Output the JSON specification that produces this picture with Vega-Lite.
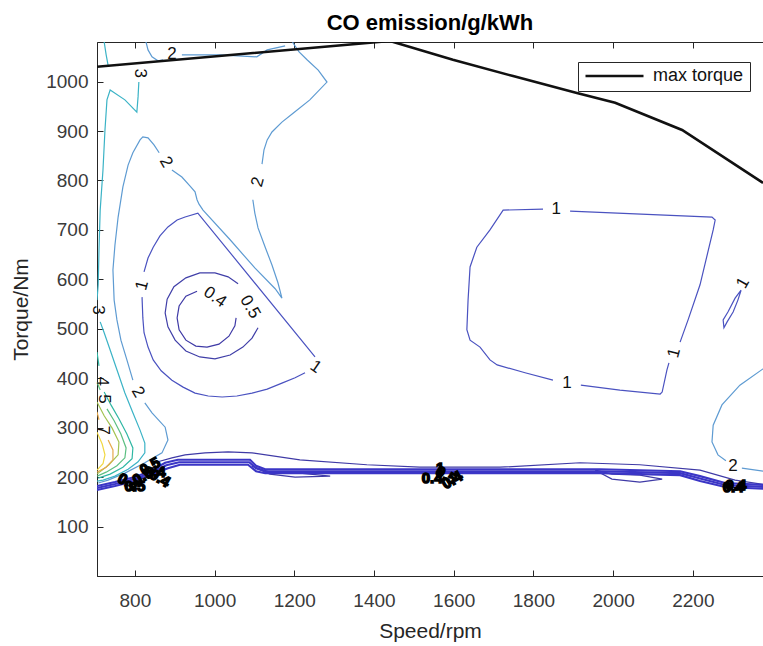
{
  "$schema": "https://vega.github.io/schema/vega-lite/v6.json",
  "width": 666,
  "height": 534,
  "autosize": {"type": "none"},
  "padding": {"left": 97, "top": 42, "right": 0, "bottom": 70},
  "background": "white",
  "title": {"text": "CO emission/g/kWh", "font": "Liberation Sans", "fontSize": 22, "fontWeight": "bold", "color": "#000000", "anchor": "middle", "offset": 7},
  "config": {
    "view": {"stroke": "#262626", "strokeWidth": 1},
    "axis": {"grid": false, "domainColor": "#262626", "tickColor": "#262626", "labelColor": "#3a3a3a", "labelFont": "Liberation Sans", "titleFont": "Liberation Sans", "labelFontSize": 19, "titleFontSize": 21, "titleFontWeight": "normal", "titleColor": "#262626", "tickSize": -6, "format": "d"}
  },
  "datasets": {
    "contours": [
      {"c":"c04","lv":"0.4","s":956,"t":576},{"c":"c04","lv":"0.4","s":928,"t":566},{"c":"c04","lv":"0.4","s":911,"t":546},{"c":"c04","lv":"0.4","s":906,"t":522},{"c":"c04","lv":"0.4","s":911,"t":498},{"c":"c04","lv":"0.4","s":928,"t":477},{"c":"c04","lv":"0.4","s":953,"t":465},{"c":"c04","lv":"0.4","s":981,"t":463},{"c":"c04","lv":"0.4","s":1011,"t":469},{"c":"c04","lv":"0.4","s":1036,"t":485},{"c":"c04","lv":"0.4","s":1051,"t":506},{"c":"c04","lv":"0.4","s":1054,"t":522},
      {"c":"c05","lv":"0.5","s":1059,"t":591},{"c":"c05","lv":"0.5","s":1034,"t":605},{"c":"c05","lv":"0.5","s":1001,"t":613},{"c":"c05","lv":"0.5","s":963,"t":613},{"c":"c05","lv":"0.5","s":928,"t":603},{"c":"c05","lv":"0.5","s":898,"t":585},{"c":"c05","lv":"0.5","s":881,"t":560},{"c":"c05","lv":"0.5","s":876,"t":532},{"c":"c05","lv":"0.5","s":883,"t":504},{"c":"c05","lv":"0.5","s":901,"t":477},{"c":"c05","lv":"0.5","s":928,"t":455},{"c":"c05","lv":"0.5","s":963,"t":443},{"c":"c05","lv":"0.5","s":1001,"t":439},{"c":"c05","lv":"0.5","s":1039,"t":447},{"c":"c05","lv":"0.5","s":1071,"t":463},{"c":"c05","lv":"0.5","s":1094,"t":481},{"c":"c05","lv":"0.5","s":1109,"t":502},
      {"c":"c1a","lv":"1","s":823,"t":615},{"c":"c1a","lv":"1","s":833,"t":643},{"c":"c1a","lv":"1","s":846,"t":665},{"c":"c1a","lv":"1","s":863,"t":688},{"c":"c1a","lv":"1","s":883,"t":706},{"c":"c1a","lv":"1","s":906,"t":720},{"c":"c1a","lv":"1","s":926,"t":726},{"c":"c1a","lv":"1","s":958,"t":734},{"c":"c1a","lv":"1","s":1252,"t":443},
      {"c":"c1b","lv":"1","s":818,"t":564},{"c":"c1b","lv":"1","s":820,"t":522},{"c":"c1b","lv":"1","s":823,"t":492},{"c":"c1b","lv":"1","s":833,"t":463},{"c":"c1b","lv":"1","s":846,"t":437},{"c":"c1b","lv":"1","s":866,"t":415},{"c":"c1b","lv":"1","s":893,"t":396},{"c":"c1b","lv":"1","s":921,"t":382},{"c":"c1b","lv":"1","s":951,"t":370},{"c":"c1b","lv":"1","s":984,"t":364},{"c":"c1b","lv":"1","s":1019,"t":362},{"c":"c1b","lv":"1","s":1056,"t":364},{"c":"c1b","lv":"1","s":1094,"t":370},{"c":"c1b","lv":"1","s":1132,"t":378},{"c":"c1b","lv":"1","s":1169,"t":390},{"c":"c1b","lv":"1","s":1202,"t":401},{"c":"c1b","lv":"1","s":1227,"t":411},
      {"c":"c2a","lv":"2","s":708,"t":188},{"c":"c2a","lv":"2","s":733,"t":194},{"c":"c2a","lv":"2","s":775,"t":208},{"c":"c2a","lv":"2","s":825,"t":229},{"c":"c2a","lv":"2","s":868,"t":249},{"c":"c2a","lv":"2","s":883,"t":275},{"c":"c2a","lv":"2","s":876,"t":301},{"c":"c2a","lv":"2","s":843,"t":330},{"c":"c2a","lv":"2","s":825,"t":350},
      {"c":"c2b","lv":"2","s":795,"t":396},{"c":"c2b","lv":"2","s":780,"t":437},{"c":"c2b","lv":"2","s":765,"t":477},{"c":"c2b","lv":"2","s":755,"t":518},{"c":"c2b","lv":"2","s":748,"t":558},{"c":"c2b","lv":"2","s":745,"t":619},{"c":"c2b","lv":"2","s":750,"t":669},{"c":"c2b","lv":"2","s":758,"t":726},{"c":"c2b","lv":"2","s":770,"t":787},{"c":"c2b","lv":"2","s":783,"t":831},{"c":"c2b","lv":"2","s":795,"t":856},{"c":"c2b","lv":"2","s":813,"t":882},{"c":"c2b","lv":"2","s":820,"t":888},{"c":"c2b","lv":"2","s":833,"t":886},{"c":"c2b","lv":"2","s":848,"t":872},{"c":"c2b","lv":"2","s":861,"t":856},
      {"c":"c2c","lv":"2","s":893,"t":821},{"c":"c2c","lv":"2","s":918,"t":807},{"c":"c2c","lv":"2","s":938,"t":789},{"c":"c2c","lv":"2","s":951,"t":777},{"c":"c2c","lv":"2","s":956,"t":761},{"c":"c2c","lv":"2","s":961,"t":752},{"c":"c2c","lv":"2","s":971,"t":740},{"c":"c2c","lv":"2","s":1039,"t":680},{"c":"c2c","lv":"2","s":1101,"t":623},{"c":"c2c","lv":"2","s":1152,"t":581},{"c":"c2c","lv":"2","s":1169,"t":562},{"c":"c2c","lv":"2","s":1159,"t":593},{"c":"c2c","lv":"2","s":1144,"t":629},{"c":"c2c","lv":"2","s":1127,"t":665},{"c":"c2c","lv":"2","s":1109,"t":704},{"c":"c2c","lv":"2","s":1101,"t":734},{"c":"c2c","lv":"2","s":1096,"t":761},
      {"c":"c2d","lv":"2","s":1119,"t":833},{"c":"c2d","lv":"2","s":1124,"t":862},{"c":"c2d","lv":"2","s":1132,"t":882},{"c":"c2d","lv":"2","s":1144,"t":898},{"c":"c2d","lv":"2","s":1169,"t":918},{"c":"c2d","lv":"2","s":1197,"t":936},{"c":"c2d","lv":"2","s":1239,"t":963},{"c":"c2d","lv":"2","s":1282,"t":999},{"c":"c2d","lv":"2","s":1260,"t":1023},{"c":"c2d","lv":"2","s":1232,"t":1044},{"c":"c2d","lv":"2","s":1212,"t":1060},{"c":"c2d","lv":"2","s":1197,"t":1078},{"c":"c2d","lv":"2","s":1193,"t":1088},
      {"c":"c2e","lv":"2","s":826,"t":1088},{"c":"c2e","lv":"2","s":828,"t":1080},{"c":"c2e","lv":"2","s":833,"t":1064},{"c":"c2e","lv":"2","s":843,"t":1050},{"c":"c2e","lv":"2","s":858,"t":1042},{"c":"c2e","lv":"2","s":871,"t":1044},
      {"c":"c2f","lv":"2","s":918,"t":1054},{"c":"c2f","lv":"2","s":1014,"t":1054},{"c":"c2f","lv":"2","s":1106,"t":1050},{"c":"c2f","lv":"2","s":1132,"t":1064},{"c":"c2f","lv":"2","s":1177,"t":1072},
      {"c":"c3a","lv":"3","s":721,"t":1090},{"c":"c3a","lv":"3","s":723,"t":1080},{"c":"c3a","lv":"3","s":728,"t":1054},{"c":"c3a","lv":"3","s":733,"t":1032},
      {"c":"c3b","lv":"3","s":810,"t":999},{"c":"c3b","lv":"3","s":808,"t":969},{"c":"c3b","lv":"3","s":805,"t":938},{"c":"c3b","lv":"3","s":775,"t":963},{"c":"c3b","lv":"3","s":738,"t":983},{"c":"c3b","lv":"3","s":730,"t":963},{"c":"c3b","lv":"3","s":725,"t":902},{"c":"c3b","lv":"3","s":720,"t":821},{"c":"c3b","lv":"3","s":713,"t":740},{"c":"c3b","lv":"3","s":710,"t":659},{"c":"c3b","lv":"3","s":708,"t":589},{"c":"c3b","lv":"3","s":705,"t":558},
      {"c":"c3c","lv":"3","s":713,"t":514},{"c":"c3c","lv":"3","s":723,"t":492},{"c":"c3c","lv":"3","s":738,"t":457},{"c":"c3c","lv":"3","s":755,"t":417},{"c":"c3c","lv":"3","s":775,"t":370},{"c":"c3c","lv":"3","s":795,"t":330},{"c":"c3c","lv":"3","s":813,"t":295},{"c":"c3c","lv":"3","s":825,"t":269},{"c":"c3c","lv":"3","s":825,"t":249},{"c":"c3c","lv":"3","s":808,"t":231},{"c":"c3c","lv":"3","s":783,"t":216},{"c":"c3c","lv":"3","s":750,"t":202},{"c":"c3c","lv":"3","s":720,"t":194},{"c":"c3c","lv":"3","s":705,"t":192},
      {"c":"c4a","lv":"4","s":705,"t":453},{"c":"c4a","lv":"4","s":710,"t":425},
      {"c":"c4b","lv":"4","s":723,"t":372},{"c":"c4b","lv":"4","s":740,"t":346},{"c":"c4b","lv":"4","s":760,"t":318},{"c":"c4b","lv":"4","s":780,"t":287},{"c":"c4b","lv":"4","s":795,"t":259},{"c":"c4b","lv":"4","s":793,"t":237},{"c":"c4b","lv":"4","s":770,"t":220},{"c":"c4b","lv":"4","s":738,"t":206},{"c":"c4b","lv":"4","s":708,"t":198},
      {"c":"c5a","lv":"5","s":705,"t":392},{"c":"c5a","lv":"5","s":713,"t":376},
      {"c":"c5b","lv":"5","s":730,"t":338},{"c":"c5b","lv":"5","s":748,"t":314},{"c":"c5b","lv":"5","s":765,"t":287},{"c":"c5b","lv":"5","s":778,"t":259},{"c":"c5b","lv":"5","s":775,"t":239},{"c":"c5b","lv":"5","s":755,"t":223},{"c":"c5b","lv":"5","s":728,"t":210},{"c":"c5b","lv":"5","s":705,"t":202},
      {"c":"c6","lv":"6","s":705,"t":352},{"c":"c6","lv":"6","s":723,"t":324},{"c":"c6","lv":"6","s":743,"t":299},{"c":"c6","lv":"6","s":760,"t":271},{"c":"c6","lv":"6","s":758,"t":245},{"c":"c6","lv":"6","s":735,"t":225},{"c":"c6","lv":"6","s":705,"t":206},
      {"c":"c7a","lv":"7","s":705,"t":332},{"c":"c7a","lv":"7","s":710,"t":316},
      {"c":"c7b","lv":"7","s":733,"t":275},{"c":"c7b","lv":"7","s":745,"t":255},{"c":"c7b","lv":"7","s":745,"t":235},{"c":"c7b","lv":"7","s":728,"t":220},{"c":"c7b","lv":"7","s":705,"t":210},
      {"c":"c8","lv":"8","s":705,"t":291},{"c":"c8","lv":"8","s":718,"t":267},{"c":"c8","lv":"8","s":725,"t":245},{"c":"c8","lv":"8","s":720,"t":227},{"c":"c8","lv":"8","s":705,"t":214},
      {"c":"r1a","lv":"1","s":1824,"t":742},{"c":"r1a","lv":"1","s":1724,"t":740},{"c":"r1a","lv":"1","s":1691,"t":700},{"c":"r1a","lv":"1","s":1658,"t":665},{"c":"r1a","lv":"1","s":1641,"t":625},{"c":"r1a","lv":"1","s":1636,"t":558},{"c":"r1a","lv":"1","s":1633,"t":498},{"c":"r1a","lv":"1","s":1641,"t":477},{"c":"r1a","lv":"1","s":1666,"t":463},{"c":"r1a","lv":"1","s":1691,"t":437},{"c":"r1a","lv":"1","s":1709,"t":427},{"c":"r1a","lv":"1","s":1779,"t":411},{"c":"r1a","lv":"1","s":1849,"t":396},
      {"c":"r1b","lv":"1","s":1919,"t":386},{"c":"r1b","lv":"1","s":2017,"t":376},{"c":"r1b","lv":"1","s":2118,"t":368},{"c":"r1b","lv":"1","s":2123,"t":372},{"c":"r1b","lv":"1","s":2135,"t":417},{"c":"r1b","lv":"1","s":2140,"t":431},
      {"c":"r1c","lv":"1","s":2168,"t":473},{"c":"r1c","lv":"1","s":2188,"t":518},{"c":"r1c","lv":"1","s":2218,"t":589},{"c":"r1c","lv":"1","s":2251,"t":700},{"c":"r1c","lv":"1","s":2256,"t":720},{"c":"r1c","lv":"1","s":2248,"t":726},{"c":"r1c","lv":"1","s":1892,"t":738},
      {"c":"r1s","lv":"1","s":2321,"t":578},{"c":"r1s","lv":"1","s":2313,"t":558},{"c":"r1s","lv":"1","s":2301,"t":534},{"c":"r1s","lv":"1","s":2286,"t":514},{"c":"r1s","lv":"1","s":2278,"t":502},{"c":"r1s","lv":"1","s":2276,"t":518},{"c":"r1s","lv":"1","s":2288,"t":534},{"c":"r1s","lv":"1","s":2306,"t":562},{"c":"r1s","lv":"1","s":2321,"t":578},
      {"c":"r2a","lv":"2","s":2385,"t":424},{"c":"r2a","lv":"2","s":2318,"t":386},{"c":"r2a","lv":"2","s":2273,"t":346},{"c":"r2a","lv":"2","s":2251,"t":305},{"c":"r2a","lv":"2","s":2248,"t":271},{"c":"r2a","lv":"2","s":2263,"t":245},{"c":"r2a","lv":"2","s":2283,"t":233},
      {"c":"r2b","lv":"2","s":2323,"t":218},{"c":"r2b","lv":"2","s":2385,"t":211},
      {"c":"bt","lv":"0.4","s":858,"t":231},{"c":"bt","lv":"0.4","s":893,"t":239},{"c":"bt","lv":"0.4","s":926,"t":245},{"c":"bt","lv":"0.4","s":976,"t":249},{"c":"bt","lv":"0.4","s":1034,"t":251},{"c":"bt","lv":"0.4","s":1094,"t":249},{"c":"bt","lv":"0.4","s":1214,"t":235},{"c":"bt","lv":"0.4","s":1382,"t":225},{"c":"bt","lv":"0.4","s":1515,"t":220},{"c":"bt","lv":"0.4","s":1716,"t":220},{"c":"bt","lv":"0.4","s":1917,"t":229},{"c":"bt","lv":"0.4","s":2067,"t":225},{"c":"bt","lv":"0.4","s":2218,"t":214},{"c":"bt","lv":"0.4","s":2306,"t":194},{"c":"bt","lv":"0.4","s":2385,"t":184},
      {"c":"lp1","lv":"0.4","s":1094,"t":222},{"c":"lp1","lv":"0.4","s":1139,"t":206},{"c":"lp1","lv":"0.4","s":1202,"t":200},{"c":"lp1","lv":"0.4","s":1290,"t":202},{"c":"lp1","lv":"0.4","s":1214,"t":208},{"c":"lp1","lv":"0.4","s":1139,"t":210},{"c":"lp1","lv":"0.4","s":1094,"t":222},
      {"c":"lp2","lv":"0.4","s":1955,"t":214},{"c":"lp2","lv":"0.4","s":1997,"t":196},{"c":"lp2","lv":"0.4","s":2067,"t":190},{"c":"lp2","lv":"0.4","s":2123,"t":196},{"c":"lp2","lv":"0.4","s":2067,"t":204},{"c":"lp2","lv":"0.4","s":1997,"t":206},{"c":"lp2","lv":"0.4","s":1955,"t":214},
      {"c":"bb1","lv":"0.3","s":705,"t":182},{"c":"bb1","lv":"0.3","s":750,"t":190},{"c":"bb1","lv":"0.3","s":800,"t":200},{"c":"bb1","lv":"0.3","s":843,"t":214},{"c":"bb1","lv":"0.3","s":876,"t":229},{"c":"bb1","lv":"0.3","s":908,"t":235},{"c":"bb1","lv":"0.3","s":1089,"t":235},{"c":"bb1","lv":"0.3","s":1104,"t":223},{"c":"bb1","lv":"0.3","s":1127,"t":216},{"c":"bb1","lv":"0.3","s":1515,"t":216},{"c":"bb1","lv":"0.3","s":1967,"t":216},{"c":"bb1","lv":"0.3","s":2168,"t":212},{"c":"bb1","lv":"0.3","s":2218,"t":202},{"c":"bb1","lv":"0.3","s":2281,"t":188},{"c":"bb1","lv":"0.3","s":2385,"t":184},
      {"c":"bb2","lv":"0.3","s":705,"t":174},{"c":"bb2","lv":"0.3","s":750,"t":182},{"c":"bb2","lv":"0.3","s":800,"t":192},{"c":"bb2","lv":"0.3","s":843,"t":206},{"c":"bb2","lv":"0.3","s":883,"t":218},{"c":"bb2","lv":"0.3","s":913,"t":225},{"c":"bb2","lv":"0.3","s":1084,"t":225},{"c":"bb2","lv":"0.3","s":1104,"t":212},{"c":"bb2","lv":"0.3","s":1127,"t":208},{"c":"bb2","lv":"0.3","s":1515,"t":208},{"c":"bb2","lv":"0.3","s":1967,"t":208},{"c":"bb2","lv":"0.3","s":2168,"t":204},{"c":"bb2","lv":"0.3","s":2218,"t":192},{"c":"bb2","lv":"0.3","s":2281,"t":180},{"c":"bb2","lv":"0.3","s":2385,"t":176},
      {"c":"bb3","lv":"0.3","s":705,"t":178},{"c":"bb3","lv":"0.3","s":750,"t":186},{"c":"bb3","lv":"0.3","s":800,"t":196},{"c":"bb3","lv":"0.3","s":843,"t":210},{"c":"bb3","lv":"0.3","s":879,"t":224},{"c":"bb3","lv":"0.3","s":911,"t":230},{"c":"bb3","lv":"0.3","s":1087,"t":230},{"c":"bb3","lv":"0.3","s":1104,"t":218},{"c":"bb3","lv":"0.3","s":1127,"t":212},{"c":"bb3","lv":"0.3","s":1515,"t":212},{"c":"bb3","lv":"0.3","s":1967,"t":212},{"c":"bb3","lv":"0.3","s":2168,"t":208},{"c":"bb3","lv":"0.3","s":2218,"t":197},{"c":"bb3","lv":"0.3","s":2281,"t":184},{"c":"bb3","lv":"0.3","s":2385,"t":180}
    ],
    "maxTorque": [
      {"series":"max torque","s":705,"t":1030},{"series":"max torque","s":1440,"t":1082},{"series":"max torque","s":1598,"t":1044},{"series":"max torque","s":1749,"t":1011},{"series":"max torque","s":1909,"t":977},{"series":"max torque","s":2005,"t":957},{"series":"max torque","s":2173,"t":902},{"series":"max torque","s":2376,"t":795}
    ],
    "labels": [
      {"name":"c2_top","txt":"2","s":893,"t":1056},
      {"name":"c3_top","txt":"3","s":813,"t":1017},
      {"name":"c2_peak","txt":"2","s":878,"t":837},
      {"name":"c2_right","txt":"2","s":1109,"t":797},
      {"name":"c1_left","txt":"1","s":818,"t":588},
      {"name":"c04","txt":"0.4","s":1001,"t":564},
      {"name":"c05","txt":"0.5","s":1089,"t":544},
      {"name":"c3_left","txt":"3","s":708,"t":538},
      {"name":"c1_right","txt":"1","s":1254,"t":423},
      {"name":"c4","txt":"4","s":718,"t":394},
      {"name":"c5","txt":"5","s":723,"t":358},
      {"name":"c2_low","txt":"2","s":808,"t":372},
      {"name":"c7","txt":"7","s":720,"t":295},
      {"name":"r1_top","txt":"1","s":1857,"t":742},
      {"name":"r1_bot","txt":"1","s":1884,"t":390},
      {"name":"r1_side","txt":"1","s":2153,"t":451},
      {"name":"r1_small","txt":"1","s":2326,"t":593},
      {"name":"r2","txt":"2","s":2301,"t":222}
    ],
    "bandLabels": [
      {"name":"b1","txt":"0.4","s":783,"t":190},
      {"name":"b2","txt":"0.5","s":820,"t":202},
      {"name":"b3","txt":"0.4","s":851,"t":210},
      {"name":"b4","txt":"0.5","s":800,"t":182},
      {"name":"b5","txt":"0.5","s":838,"t":222},
      {"name":"b6","txt":"0.4","s":863,"t":198},
      {"name":"m1","txt":"0.4","s":1546,"t":198},
      {"name":"m2","txt":"0.5","s":1581,"t":204},
      {"name":"m3","txt":"1","s":1566,"t":218},
      {"name":"m4","txt":"0.4","s":1596,"t":194},
      {"name":"q1","txt":"0.4","s":2301,"t":180},
      {"name":"q2","txt":"0.4","s":2308,"t":184}
    ]
  },
  "encoding": {
    "x": {"field": "s", "type": "quantitative", "scale": {"domain": [705, 2376], "nice": false, "zero": false}, "axis": null},
    "y": {"field": "t", "type": "quantitative", "scale": {"domain": [0, 1080], "nice": false, "zero": false},
          "axis": {"title": "Torque/Nm", "values": [100,200,300,400,500,600,700,800,900,1000], "labelPadding": 15, "titlePadding": 14}}
  },
  "layer": [
    {
      "data": {"name": "contours"},
      "transform": [{"filter": {"not": {"field": "c", "oneOf": ["bb1","bb2","bb3"]}}}],
      "mark": {"type": "line", "strokeWidth": 1.2, "clip": true},
      "encoding": {
        "x": {"field": "s", "type": "quantitative", "scale": {"domain": [705, 2376], "nice": false, "zero": false},
              "axis": {"orient": "bottom", "title": "Speed/rpm", "values": [800,1000,1200,1400,1600,1800,2000,2200], "labelPadding": 21, "titlePadding": 10}},
        "detail": {"field": "c", "type": "nominal"},
        "order": {"value": null},
        "color": {"field": "lv", "type": "nominal", "legend": null,
                  "scale": {"domain": ["0.3","0.4","0.5","1","2","3","4","5","6","7","8"],
                            "range": ["#3b36c6","#3f3aa6","#403fa8","#4a52c0","#5e9bd2","#3bb3c6","#2fb7a4","#5cbf82","#a3c352","#e6a94c","#f1d842"]}}
      }
    },
    {
      "data": {"name": "contours"},
      "transform": [{"filter": {"field": "c", "oneOf": ["bb1","bb2","bb3"]}}],
      "mark": {"type": "line", "strokeWidth": 2.1, "clip": true},
      "encoding": {
        "detail": {"field": "c", "type": "nominal"},
        "order": {"value": null},
        "color": {"field": "lv", "type": "nominal", "legend": null}
      }
    },
    {
      "data": {"name": "maxTorque"},
      "mark": {"type": "line", "strokeWidth": 2.6, "clip": true},
      "encoding": {
        "x": {"field": "s", "type": "quantitative", "scale": {"domain": [705, 2376], "nice": false, "zero": false},
              "axis": {"orient": "top", "title": null, "labels": false, "domain": false, "values": [800,1000,1200,1400,1600,1800,2000,2200]}},
        "order": {"value": null},
        "stroke": {"field": "series", "type": "nominal", "scale": {"range": ["#111111"]},
                   "legend": {"title": null, "orient": "none", "legendX": 481, "legendY": 20, "symbolType": "stroke", "symbolSize": 3364, "symbolStrokeWidth": 2.6, "clipHeight": 16, "labelFont": "Liberation Sans", "labelFontSize": 18, "labelColor": "#111111", "labelOffset": 8, "padding": 6, "strokeColor": "#262626", "fillColor": "white"}}
      }
    },
    {
      "data": {"name": "labels"},
      "transform": [{"filter": {"field": "name", "oneOf": ["c2_top","r1_top","r1_bot","r2"]}}],
      "mark": {"type": "text", "font": "Liberation Sans", "fontSize": 17, "color": "#111111", "angle": 0},
      "encoding": {"text": {"field": "txt"}}
    },
    {
      "data": {"name": "labels"},
      "transform": [{"filter": {"field": "name", "oneOf": ["c3_top","c3_left","c7","c4","c5"]}}],
      "mark": {"type": "text", "font": "Liberation Sans", "fontSize": 17, "color": "#111111", "angle": 90},
      "encoding": {"text": {"field": "txt"}}
    },
    {
      "data": {"name": "labels"},
      "transform": [{"filter": {"field": "name", "oneOf": ["c2_peak","c2_low","c05"]}}],
      "mark": {"type": "text", "font": "Liberation Sans", "fontSize": 17, "color": "#111111", "angle": 60},
      "encoding": {"text": {"field": "txt"}}
    },
    {
      "data": {"name": "labels"},
      "transform": [{"filter": {"field": "name", "oneOf": ["c2_right","c1_left","r1_side"]}}],
      "mark": {"type": "text", "font": "Liberation Sans", "fontSize": 17, "color": "#111111", "angle": 285},
      "encoding": {"text": {"field": "txt"}}
    },
    {
      "data": {"name": "labels"},
      "transform": [{"filter": {"field": "name", "oneOf": ["c04","c1_right"]}}],
      "mark": {"type": "text", "font": "Liberation Sans", "fontSize": 17, "color": "#111111", "angle": 35},
      "encoding": {"text": {"field": "txt"}}
    },
    {
      "data": {"name": "labels"},
      "transform": [{"filter": {"field": "name", "oneOf": ["r1_small"]}}],
      "mark": {"type": "text", "font": "Liberation Sans", "fontSize": 17, "color": "#111111", "angle": 300},
      "encoding": {"text": {"field": "txt"}}
    },
    {
      "data": {"name": "bandLabels"},
      "transform": [{"filter": {"field": "name", "oneOf": ["b3","b4","m1","m3","q1","q2"]}}],
      "mark": {"type": "text", "font": "Liberation Sans", "fontSize": 15, "fontWeight": "bold", "color": "#000000", "stroke": "#000000", "strokeWidth": 1.5, "angle": 0},
      "encoding": {"text": {"field": "txt"}}
    },
    {
      "data": {"name": "bandLabels"},
      "transform": [{"filter": {"field": "name", "oneOf": ["b1","b6","m2"]}}],
      "mark": {"type": "text", "font": "Liberation Sans", "fontSize": 15, "fontWeight": "bold", "color": "#000000", "stroke": "#000000", "strokeWidth": 1.5, "angle": 30},
      "encoding": {"text": {"field": "txt"}}
    },
    {
      "data": {"name": "bandLabels"},
      "transform": [{"filter": {"field": "name", "oneOf": ["b2","b5","m4"]}}],
      "mark": {"type": "text", "font": "Liberation Sans", "fontSize": 15, "fontWeight": "bold", "color": "#000000", "stroke": "#000000", "strokeWidth": 1.5, "angle": 330},
      "encoding": {"text": {"field": "txt"}}
    }
  ],
  "resolve": {"axis": {"x": "independent"}}
}
